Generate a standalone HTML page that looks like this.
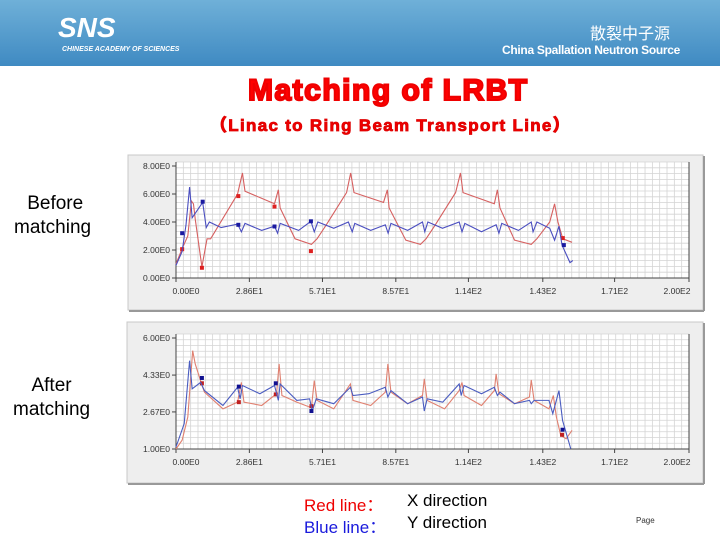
<!DOCTYPE html>
<html><head><meta charset="utf-8"><style>
body{margin:0;width:720px;height:540px;position:relative;background:#fff;font-family:"Liberation Sans","Noto Sans CJK SC",sans-serif;overflow:hidden}
.hdr{position:absolute;left:0;top:0;width:720px;height:66px;background:linear-gradient(#6fb0d8,#3f8ac2)}
.t{position:absolute;white-space:nowrap}
</style></head><body>
<div class="hdr">
 <div class="t" style="left:58px;top:12px;color:#fff;font:italic bold 28px 'Liberation Sans',sans-serif">SNS</div>
 <div class="t" style="left:62px;top:46px;color:#fff;font:italic bold 7px 'Liberation Sans',sans-serif">CHINESE ACADEMY OF SCIENCES</div>
 <div class="t" style="left:590px;top:20px;color:#fff;font:16px 'Liberation Sans','Noto Sans CJK SC',sans-serif">散裂中子源</div>
 <div class="t" style="left:502px;top:43px;color:#fff;font:bold 12px 'Liberation Sans',sans-serif;letter-spacing:-0.3px">China Spallation Neutron Source</div>
</div>
<div class="t" style="left:248px;top:74px;color:#f00;font:900 30px 'Liberation Sans',sans-serif;-webkit-text-stroke:2px #e00;letter-spacing:1.5px">Matching of LRBT</div>
<div class="t" style="left:210px;top:111px;color:#e00;font:900 17px 'Liberation Sans','Noto Sans CJK SC',sans-serif;-webkit-text-stroke:0.8px #d00;letter-spacing:1.3px">（Linac to Ring Beam Transport Line）</div>
<div class="t" style="left:14px;top:192px;font:19px 'Liberation Sans',sans-serif;text-align:center;line-height:24px">&nbsp;Before<br>matching</div>
<div class="t" style="left:13px;top:374px;font:19px 'Liberation Sans',sans-serif;text-align:center;line-height:24px">After<br>matching</div>
<div class="t" style="left:304px;top:491px;font:17px 'Liberation Sans','Noto Sans CJK SC',sans-serif"><span style="color:#e00">Red line：</span></div>
<div class="t" style="left:304px;top:513px;font:17px 'Liberation Sans','Noto Sans CJK SC',sans-serif"><span style="color:#1a1adc">Blue line：</span></div>
<div class="t" style="left:407px;top:491px;font:17px 'Liberation Sans',sans-serif">X direction</div>
<div class="t" style="left:407px;top:513px;font:17px 'Liberation Sans',sans-serif">Y direction</div>
<div class="t" style="left:636px;top:516px;font:8px 'Liberation Sans',sans-serif;color:#333">Page</div>
<svg id="ch" width="720" height="540" style="position:absolute;left:0;top:0"></svg>
<script>
const xTicks=[0,28.6,57.1,85.7,114,143,171,200];
const xTickLabels=["0.00E0","2.86E1","5.71E1","8.57E1","1.14E2","1.43E2","1.71E2","2.00E2"];
const topYTicks=[0,2,4,6,8];
const topYLabels=["0.00E0","2.00E0","4.00E0","6.00E0","8.00E0"];
const botYTicks=[1,2.67,4.33,6];
const botYLabels=["1.00E0","2.67E0","4.33E0","6.00E0"];
const topRedX=[0,2.4,4.6,6.0,6.8,7.5,10.1,12.1,13.5,24.0,25.9,26.9,38.4,39.9,40.6,46.4,52.8,55.0,58.6,66.5,68.1,69.4,80.9,82.4,83.1,89.6,95.3,97.5,101.1,109,110.9,111.9,124.1,125.3,126.3,132,138.5,140.7,145.7,147.6,148.9,150.8,154.4];
const topRedY=[1.0,2.1,3.0,5.5,5.3,4.2,0.8,2.8,2.8,6.0,7.5,6.2,5.3,6.3,5.0,2.8,2.4,2.8,3.8,6.1,7.5,6.1,5.4,6.3,5.0,2.7,2.4,2.8,3.8,6.1,7.5,6.1,5.3,6.3,5.0,2.7,2.4,2.8,4.0,5.3,4.0,2.8,2.55];
const topRedMX=[2.4,10.1,24.3,38.4,52.6,150.8];
const topRedMY=[2.06,0.73,5.85,5.1,1.92,2.85];
const topBlueX=[0,2.4,3.9,5.3,6.3,10.4,11.8,13,17.6,24,25.5,26.9,33.4,38.4,39.6,40.6,47.8,52.6,53.9,55.3,61.5,67.2,68.7,69.7,75.9,81.6,82.7,83.8,90.3,96.1,97,98.2,103.9,110.4,111.5,112.6,119.1,124.8,125.9,127,133.5,138.5,139.2,140.7,145.7,147.6,149.3,150.5,153.6,154.7];
const topBlueY=[0.9,1.9,3.8,6.5,4.3,5.4,3.6,4.0,3.6,3.85,3.3,3.9,3.4,3.7,3.2,3.9,3.4,4.05,3.3,4.0,3.55,4.0,3.3,3.9,3.4,3.8,3.2,3.9,3.4,4.0,3.3,4.0,3.55,4.0,3.3,3.9,3.3,3.8,3.2,3.9,3.4,4.0,3.3,4.0,3.55,2.7,3.7,2.35,1.1,1.25];
const topBlueMX=[2.4,10.4,24.3,38.4,52.6,151.2];
const topBlueMY=[3.2,5.45,3.8,3.68,4.05,2.35];
const botRedX=[0,2.4,4.6,6.5,7.5,10.4,11.1,18.3,24,25.5,26.5,33.4,39.2,40.2,41.3,47.1,52.8,53.9,55,61.5,68,69,75.9,81.6,82.6,83.8,90.3,96.1,96.8,97.9,104.7,110.4,111.5,112.3,119.1,124.1,124.8,125.9,132,137.8,138.5,139.6,145.4,147.1,148.3,150,152.1,154.4];
const botRedY=[1.0,1.4,2.44,5.43,4.83,3.78,3.56,2.81,3.11,4.0,3.11,2.96,3.49,4.83,3.41,3.11,2.86,4.08,3.19,2.81,3.93,3.19,2.96,3.56,4.83,3.56,3.04,3.41,4.16,3.19,2.81,3.63,4.0,3.41,2.96,3.63,4.38,3.49,3.04,3.34,4.11,3.19,2.81,3.41,2.44,1.61,1.46,1.84];
const botRedMX=[10.1,24.5,38.9,52.8,150.5];
const botRedMY=[3.96,3.11,3.46,2.93,1.64];
const botBlueX=[0,3.2,5.3,6.3,9.6,11.1,18.3,24,25,25.9,32.7,38.4,39.9,40.6,47.1,52.1,53.1,54.7,61.5,68,69,75.2,81.6,82.6,83.8,90.3,96.1,96.8,97.9,104,110.4,111.2,112.3,119.1,124.1,125.3,126.3,132,137.8,138.5,139.6,145.4,146.9,149.3,150.7,153.9];
const botBlueY=[1.09,2.14,4.98,3.71,4.0,3.63,2.96,3.78,3.26,3.86,3.49,3.86,3.19,3.93,3.19,3.26,2.71,3.26,3.04,3.78,3.41,3.49,3.78,3.34,3.63,3.04,3.34,2.71,3.26,3.11,3.93,3.41,3.86,3.49,3.78,3.41,3.56,3.04,3.19,3.04,3.19,3.19,2.59,3.63,2.29,1.01];
const botBlueMX=[10.1,24.5,38.9,52.8,150.7];
const botBlueMY=[4.2,3.81,3.96,2.71,1.87];

const NS="http://www.w3.org/2000/svg";
const svg=document.getElementById('ch');
function mk(tag,attrs,parent){const e=document.createElementNS(NS,tag);for(const k in attrs)e.setAttribute(k,attrs[k]);(parent||svg).appendChild(e);return e;}
function chart(cfg){
 const g=mk('g',{});
 
 
 const X0=176,X1=689;
 const sx=v=>X0+(v-0)/200*(X1-X0);
 const sy=v=>cfg.yb-(v-cfg.ymin)/(cfg.ymax-cfg.ymin)*(cfg.yb-cfg.yt);
 const pan=mk('rect',{x:cfg.px,y:cfg.py,width:cfg.pw,height:cfg.ph,fill:'#eeeeee',stroke:'#c8c8c8'},g);
 
 
 mk('line',{x1:cfg.px+1,y1:cfg.py+cfg.ph+1,x2:cfg.px+cfg.pw+1,y2:cfg.py+cfg.ph+1,stroke:'#999',"stroke-width":2},g);
 mk('line',{x1:cfg.px+cfg.pw+1,y1:cfg.py+1,x2:cfg.px+cfg.pw+1,y2:cfg.py+cfg.ph+1,stroke:'#999',"stroke-width":2},g);
 const pa=mk('rect',{x:X0,y:cfg.yt-4,width:X1-X0,height:cfg.yb-cfg.yt+4,fill:'#fff'},g);
 
 
 for(let i=0;i<=70;i++){const x=sx(i*200/70);mk('line',{x1:x,y1:cfg.yt-4,x2:x,y2:cfg.yb,stroke:'#d4d4d4',"stroke-width":0.8},g);}
 const ny=cfg.ny;for(let i=0;i<=ny;i++){const y=cfg.yb-(cfg.yb-cfg.yt+4)*i/ny;mk('line',{x1:X0,y1:y,x2:X1,y2:y,stroke:'#d4d4d4',"stroke-width":0.8},g);}
 mk('line',{x1:X0,y1:cfg.yt-4,x2:X0,y2:cfg.yb+3,stroke:'#444'},g);
 mk('line',{x1:X1,y1:cfg.yt-4,x2:X1,y2:cfg.yb+3,stroke:'#444'},g);
 mk('line',{x1:X0,y1:cfg.yb,x2:X1,y2:cfg.yb,stroke:'#444'},g);
 xTicks.forEach((v,i)=>{const x=sx(v);mk('line',{x1:x,y1:cfg.yb,x2:x,y2:cfg.yb+4,stroke:'#444'},g);
  let lx=x;if(i===0)lx=x+10;if(i===xTicks.length-1)lx=x-12;
  const t=mk('text',{x:lx,y:cfg.yb+16,"font-size":8.5,fill:'#333',"text-anchor":'middle',"font-family":'Liberation Sans, sans-serif'},g);t.textContent=xTickLabels[i];
  
  });
 cfg.yticks.forEach((v,i)=>{const y=sy(v);mk('line',{x1:X0-4,y1:y,x2:X0,y2:y,stroke:'#444'},g);
  const t=mk('text',{x:X0-6,y:y+3,"font-size":8.5,fill:'#333',"text-anchor":'end',"font-family":'Liberation Sans, sans-serif'},g);t.textContent=cfg.ylabels[i];
  
  });
 cfg.series.forEach(s=>{
  const p=mk('polyline',{points:s.x.map((v,i)=>sx(v)+','+sy(s.y[i])).join(' '),fill:'none',stroke:s.c,"stroke-width":1.1},g);
  
  
  s.mx.forEach((v,i)=>{const r=mk('rect',{x:sx(v)-2,y:sy(s.my[i])-2,width:4,height:4,fill:s.mc},g);
   
   });
 });
}
chart({name:'before-matching-chart',px:128,py:155,pw:575,ph:155,yt:166,yb:278,ymin:0,ymax:8,ny:20,yticks:topYTicks,ylabels:topYLabels,
 series:[{n:'x-direction',x:topRedX,y:topRedY,c:'#d66060',mx:topRedMX,my:topRedMY,mc:'#dd2020'},{n:'y-direction',x:topBlueX,y:topBlueY,c:'#4a4ec0',mx:topBlueMX,my:topBlueMY,mc:'#1a1aa0'}]});
chart({name:'after-matching-chart',px:127,py:322,pw:576,ph:161,yt:338,yb:449,ymin:1,ymax:6,ny:20,yticks:botYTicks,ylabels:botYLabels,
 series:[{n:'x-direction',x:botRedX,y:botRedY,c:'#e08070',mx:botRedMX,my:botRedMY,mc:'#c02020'},{n:'y-direction',x:botBlueX,y:botBlueY,c:'#4a5cc0',mx:botBlueMX,my:botBlueMY,mc:'#101090'}]});
</script>
</body></html>
